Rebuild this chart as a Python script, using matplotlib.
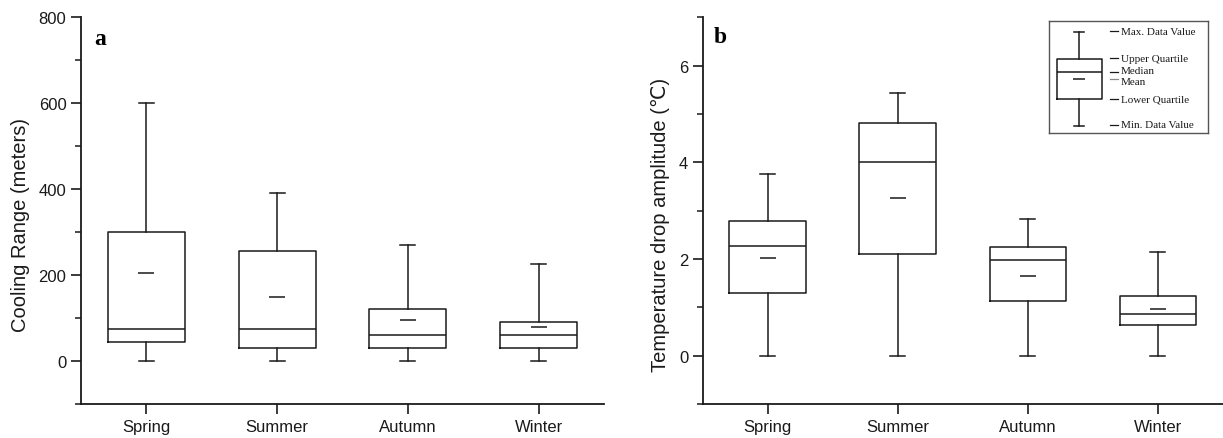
import matplotlib
matplotlib.use("Agg")
import matplotlib.pyplot as plt
from matplotlib.ticker import MultipleLocator

seasons = ["Spring", "Summer", "Autumn", "Winter"]

# cooling range (m): min, Q1, median, Q3, max, mean
range_min = [0, 0, 0, 0]
range_q1 = [45, 30, 30, 30]
range_med = [75, 75, 60, 60]
range_q3 = [300, 255, 120, 90]
range_max = [600, 390, 270, 225]
range_mean = [204, 150, 96, 80]

# temperature drop amplitude (deg C)
drop_min = [0, 0, 0, 0]
drop_q1 = [1.29, 2.11, 1.13, 0.64]
drop_med = [2.27, 4.01, 1.97, 0.86]
drop_q3 = [2.78, 4.81, 2.24, 1.23]
drop_max = [3.75, 5.43, 2.83, 2.14]
drop_mean = [2.02, 3.27, 1.64, 0.97]

# schematic box for the key
key_stats = [0.0625, 0.304, 0.545, 0.666, 0.904, 0.482]
key_labels = ["Max. Data Value", "Upper Quartile", "Median", "Mean",
              "Lower Quartile", "Min. Data Value"]
key_label_y = [0.911, 0.67, 0.565, 0.46, 0.306, 0.077]

INK = "#1a1a1a"
plt.rcParams["font.family"] = ["Liberation Sans", "DejaVu Sans"]


def make_stats(lo, q1, med, q3, hi, mean):
    return [dict(whislo=a, q1=b, med=c, q3=d, whishi=e, mean=f, fliers=[])
            for a, b, c, d, e, f in zip(lo, q1, med, q3, hi, mean)]


def draw_boxes(ax, stats, positions, widths, capw, meansize, ticks=True):
    lp = dict(color=INK, linewidth=1.1)
    ax.bxp(stats, positions=positions, widths=widths, capwidths=capw,
           showmeans=True, showfliers=False, manage_ticks=ticks,
           boxprops=lp, whiskerprops=lp, capprops=lp,
           medianprops=lp,
           meanprops=dict(marker="_", markersize=meansize,
                          markeredgewidth=1.1, markeredgecolor=INK))


def style_axes(ax):
    for side in ("top", "right"):
        ax.spines[side].set_visible(False)
    for side in ("left", "bottom"):
        ax.spines[side].set_linewidth(1.3)
        ax.spines[side].set_color(INK)
    ax.tick_params(axis="both", which="major", length=7, width=1.2,
                   color=INK, labelsize=12, labelcolor=INK)
    ax.tick_params(axis="y", which="minor", length=4, width=1.1, color=INK)
    ax.set_xlim(0.5, 4.5)


fig = plt.figure(figsize=(12.23, 4.39), dpi=100)
pos = [1, 2, 3, 4]

# panel a
ax1 = fig.add_axes([0.0662, 0.0774, 0.4277, 0.881])
draw_boxes(ax1, make_stats(range_min, range_q1, range_med, range_q3,
                           range_max, range_mean), pos, 0.59, 0.115, 11)
style_axes(ax1)
ax1.set_ylim(-100, 800)
ax1.yaxis.set_major_locator(MultipleLocator(200))
ax1.yaxis.set_minor_locator(MultipleLocator(100))
ax1.set_xticks(pos, seasons)
ax1.set_ylabel("Cooling Range (meters)", fontsize=14.5, color=INK, labelpad=6)
ax1.yaxis.label.set_y(0.465)
ax1.text(0.026, 0.945, "a", transform=ax1.transAxes, fontsize=17,
         fontweight="bold", family="Liberation Serif", va="center")

# panel b
ax2 = fig.add_axes([0.5746, 0.0774, 0.4254, 0.881])
draw_boxes(ax2, make_stats(drop_min, drop_q1, drop_med, drop_q3,
                           drop_max, drop_mean), pos, 0.59, 0.115, 11)
style_axes(ax2)
ax2.set_ylim(-1, 7)
ax2.yaxis.set_major_locator(MultipleLocator(2))
ax2.yaxis.set_minor_locator(MultipleLocator(1))
ax2.set_xticks(pos, seasons)
ax2.set_ylabel("Temperature drop amplitude (\u2103)", fontsize=14.5,
               color=INK, labelpad=6, family=["Liberation Sans", "DejaVu Sans"])
ax2.yaxis.label.set_y(0.465)
ax2.text(0.022, 0.95, "b", transform=ax2.transAxes, fontsize=17,
         fontweight="bold", family="Liberation Serif", va="center")

# key explaining the box elements
key = fig.add_axes([1048.7 / 1223, (439 - 134.3) / 439, 159.6 / 1223, 112 / 439])
lo, q1, med, q3, hi, mn = key_stats
draw_boxes(key, [dict(whislo=lo, q1=q1, med=med, q3=q3, whishi=hi, mean=mn,
                      fliers=[])], [0.19], 0.282, 0.063, 8, ticks=False)
key.set_xlim(0, 1)
key.set_ylim(0, 1)
key.set_xticks([])
key.set_yticks([])
for s in key.spines.values():
    s.set_color("#555555")
    s.set_linewidth(1.0)
for lab, y in zip(key_labels, key_label_y):
    dash_y = 0.485 if lab == "Mean" else (0.55 if lab == "Median" else y)
    key.plot([0.385, 0.432], [dash_y, dash_y],
             color="#888888" if lab == "Mean" else INK, lw=0.9)
    key.text(0.45, y, lab, fontsize=8, family="Liberation Serif",
             va="center", ha="left", color=INK)

fig.savefig("out.png", dpi=100)
